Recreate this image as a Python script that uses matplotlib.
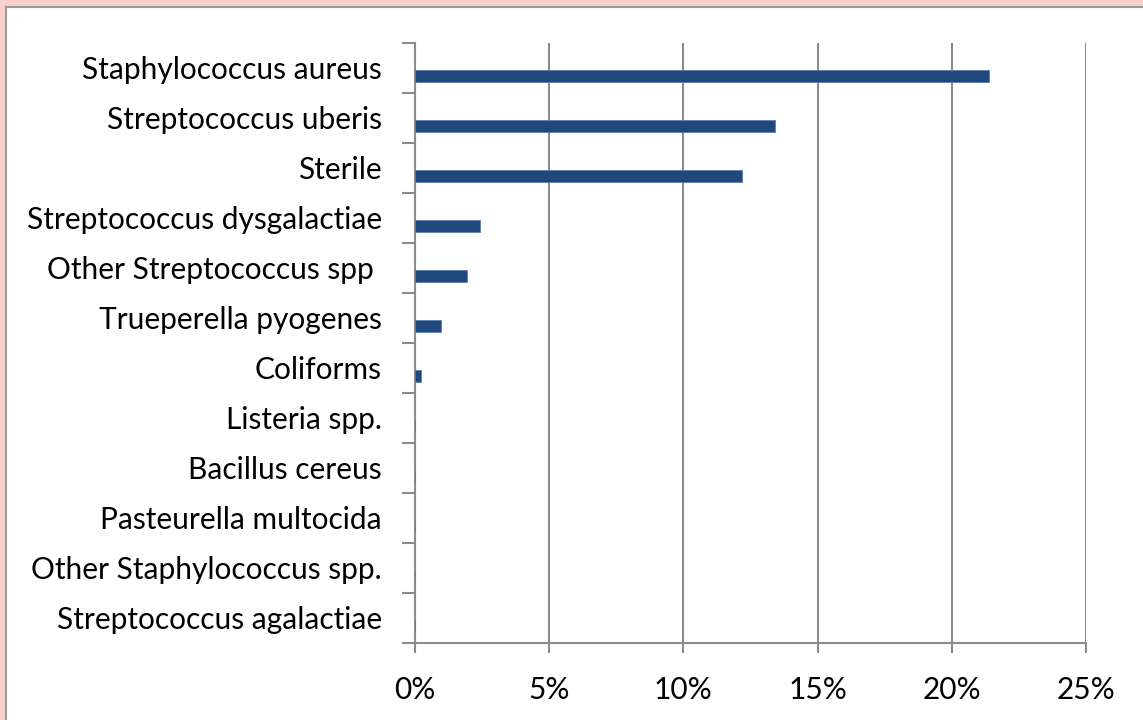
import matplotlib.pyplot as plt
from matplotlib.patches import Rectangle
from matplotlib.ticker import FuncFormatter

# organisms isolated, share of samples (%)
organisms = ['Staphylococcus aureus', 'Streptococcus uberis', 'Sterile',
             'Streptococcus dysgalactiae', 'Other Streptococcus spp ',
             'Trueperella pyogenes', 'Coliforms', 'Listeria spp.',
             'Bacillus cereus', 'Pasteurella multocida',
             'Other Staphylococcus spp.', 'Streptococcus agalactiae']
percent = [21.4, 13.42, 12.18, 2.42, 1.95, 0.97, 0.22, 0, 0, 0, 0, 0]
x_ticks = [0, 5, 10, 15, 20, 25]

plt.rcParams['font.family'] = ['Lato', 'DejaVu Sans']
grey = '#8c8c8c'

fig = plt.figure(figsize=(11.43, 7.2), dpi=100)
fig.patch.set_facecolor('#fccfcf')
# white chart panel with grey frame
fig.patches.append(Rectangle((6 / 1143, -0.01), 1.02, 1 - 7 / 720 + 0.01,
                             transform=fig.transFigure, facecolor='white',
                             edgecolor='#9a9a9a', linewidth=1.5, zorder=-10))

ax = fig.add_axes([415 / 1143, 1 - 643 / 720, (1086 - 415) / 1143, (643 - 42.5) / 720])
ax.set_facecolor('none')
ax.set_zorder(5)

pos = [i + 0.5 + 0.16 for i in range(len(organisms))]
ax.barh(pos, percent, height=0.24, color='#1f497d', edgecolor='#5b7fb0',
        linewidth=0.6, zorder=3)

ax.set_ylim(len(organisms), 0)
ax.set_xlim(0, 25)

ax.set_yticks(range(len(organisms) + 1))
ax.set_yticklabels([])
ax.set_yticks([i + 0.5 for i in range(len(organisms))], minor=True)
ax.set_yticklabels(organisms, minor=True, fontsize=21.5)
ax.tick_params(axis='y', which='major', length=9.4, width=1.5, color=grey)
ax.tick_params(axis='y', which='minor', length=0, pad=24)

ax.set_xticks(x_ticks)
ax.xaxis.set_major_formatter(FuncFormatter(lambda v, p: f'{v:.0f}%'))
ax.tick_params(axis='x', length=7, width=1.5, color=grey, labelsize=21.5, pad=17)

ax.grid(axis='x', color=grey, linewidth=1.5, zorder=1)
for s in ['top', 'right']:
    ax.spines[s].set_visible(False)
for s in ['left', 'bottom']:
    ax.spines[s].set_color(grey)
    ax.spines[s].set_linewidth(1.5)

plt.savefig('out.png', dpi=100, facecolor=fig.get_facecolor())
